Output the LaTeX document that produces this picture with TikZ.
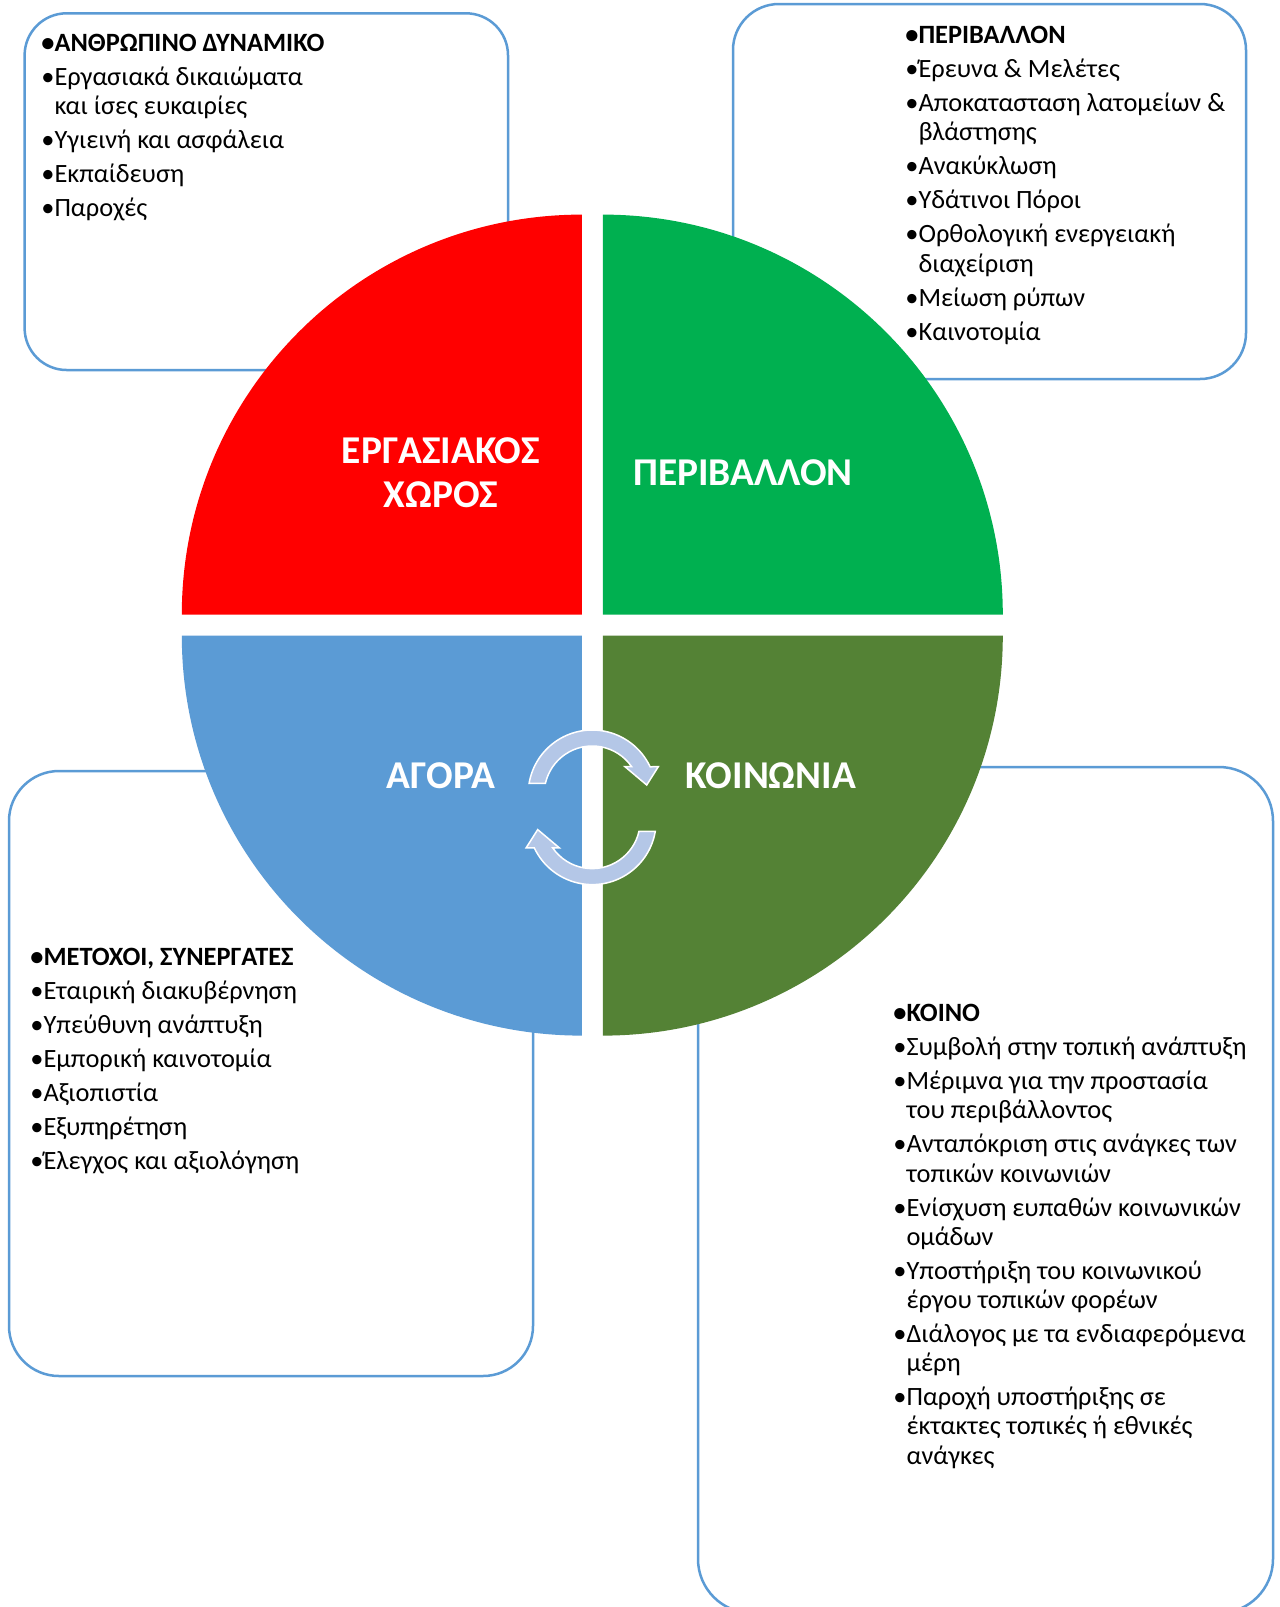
\documentclass[tikz,border=0pt]{standalone}
\usepackage{fontspec}
\setmainfont{Carlito}
\usetikzlibrary{positioning}
\definecolor{workred}{HTML}{FF0000}
\definecolor{envgreen}{HTML}{00B050}
\definecolor{marketblue}{HTML}{5B9BD5}
\definecolor{socgreen}{HTML}{548235}
\definecolor{boxline}{HTML}{5B9BD5}
\definecolor{cyclefill}{HTML}{B4C7E7}
\newcommand{\blt}{\textbullet}
\newcommand{\contind}{\phantom{\textbullet}}
\newcommand{\cyclearrow}{%
  (170.4:64) arc[start angle=170.4, end angle=25.2, radius=64]
  -- (66.1,27.3) -- (54.5,9) -- (32.8,27.3) -- (34.7:48)
  arc[start angle=34.7, end angle=167.1, radius=48] -- cycle}

\begin{document}
\begin{tikzpicture}[x=0.5pt, y=0.5pt,
  cornerbox/.style={draw=boxline, line width=1.25pt, fill=white},
  quadlabel/.style={text=white, font=\fontsize{19.7}{22}\selectfont\bfseries, align=center, inner sep=0},
  itemlist/.style={anchor=north west, inner sep=0, align=left, font=\fontsize{13.2}{14.6}\selectfont},
  cycle arrow/.style={fill=cyclefill, draw=white, line width=0.75pt, line join=miter}]
  \useasboundingbox (0,0) rectangle (1280,-1607);
  \fill[white] (0,0) rectangle (1280,-1607);

  % corner boxes
  \draw[cornerbox, rounded corners=21pt] (24.6,-13.3) rectangle (508,-370);
  \draw[cornerbox, rounded corners=23pt] (733,-4) rectangle (1246,-379);
  \draw[cornerbox, rounded corners=25pt] (9,-771) rectangle (533,-1376);
  \draw[cornerbox, rounded corners=27pt] (698,-767) rectangle (1273,-1613);

  % quadrants
  \fill[workred] (581.8,-614.6) -- ++(180:400) arc[start angle=180, end angle=90, radius=400] -- cycle;
  \fill[envgreen] (602.8,-614.6) -- ++(90:400) arc[start angle=90, end angle=0, radius=400] -- cycle;
  \fill[marketblue] (581.8,-635.6) -- ++(270:400) arc[start angle=270, end angle=180, radius=400] -- cycle;
  \fill[socgreen] (602.8,-635.6) -- ++(0:400) arc[start angle=0, end angle=-90, radius=400] -- cycle;

  \node[quadlabel] (work) at (441,-473) {ΕΡΓΑΣΙΑΚΟΣ\\ΧΩΡΟΣ};
  \node[quadlabel] (env) at (743,-473) {ΠΕΡΙΒΑΛΛΟΝ};
  \node[quadlabel] (market) at (441,-776) {ΑΓΟΡΑ};
  \node[quadlabel] (society) at (771,-776) {ΚΟΙΝΩΝΙΑ};

  % cycle arrows
  \begin{scope}[shift={(592.2,-794)}]
    \filldraw[cycle arrow] \cyclearrow;
  \end{scope}
  \begin{scope}[shift={(592.2,-820.6)}, rotate=180]
    \filldraw[cycle arrow] \cyclearrow;
  \end{scope}

  % lists
  \node[itemlist] (staff) at (41,-34) {%
    \textbf{\blt ΑΝΘΡΩΠΙΝΟ ΔΥΝΑΜΙΚΟ}\\[2.4pt]
    \blt Εργασιακά δικαιώματα\\
    \contind και ίσες ευκαιρίες\\[2.4pt]
    \blt Υγιεινή και ασφάλεια\\[2.4pt]
    \blt Εκπαίδευση\\[2.4pt]
    \blt Παροχές};
  \node[itemlist] (envlist) at (905,-26) {%
    \textbf{\blt ΠΕΡΙΒΑΛΛΟΝ}\\[2.4pt]
    \blt Έρευνα \& Μελέτες\\[2.4pt]
    \blt Αποκατασταση λατομείων \&\\
    \contind βλάστησης\\[2.4pt]
    \blt Ανακύκλωση\\[2.4pt]
    \blt Υδάτινοι Πόροι\\[2.4pt]
    \blt Ορθολογική ενεργειακή\\
    \contind διαχείριση\\[2.4pt]
    \blt Μείωση ρύπων\\[2.4pt]
    \blt Καινοτομία};
  \node[itemlist] (partners) at (30,-948) {%
    \textbf{\blt ΜΕΤΟΧΟΙ, ΣΥΝΕΡΓΑΤΕΣ}\\[2.4pt]
    \blt Εταιρική διακυβέρνηση\\[2.4pt]
    \blt Υπεύθυνη ανάπτυξη\\[2.4pt]
    \blt Εμπορική καινοτομία\\[2.4pt]
    \blt Αξιοπιστία\\[2.4pt]
    \blt Εξυπηρέτηση\\[2.4pt]
    \blt Έλεγχος και αξιολόγηση};
  \node[itemlist] (common) at (893,-1004) {%
    \textbf{\blt ΚΟΙΝΟ}\\[2.4pt]
    \blt Συμβολή στην τοπική ανάπτυξη\\[2.4pt]
    \blt Μέριμνα για την προστασία\\
    \contind του περιβάλλοντος\\[2.4pt]
    \blt Ανταπόκριση στις ανάγκες των\\
    \contind τοπικών κοινωνιών\\[2.4pt]
    \blt Ενίσχυση ευπαθών κοινωνικών\\
    \contind ομάδων\\[2.4pt]
    \blt Υποστήριξη του κοινωνικού\\
    \contind έργου τοπικών φορέων\\[2.4pt]
    \blt Διάλογος με τα ενδιαφερόμενα\\
    \contind μέρη\\[2.4pt]
    \blt Παροχή υποστήριξης σε\\
    \contind έκτακτες τοπικές ή εθνικές\\
    \contind ανάγκες};
\end{tikzpicture}
\end{document}
